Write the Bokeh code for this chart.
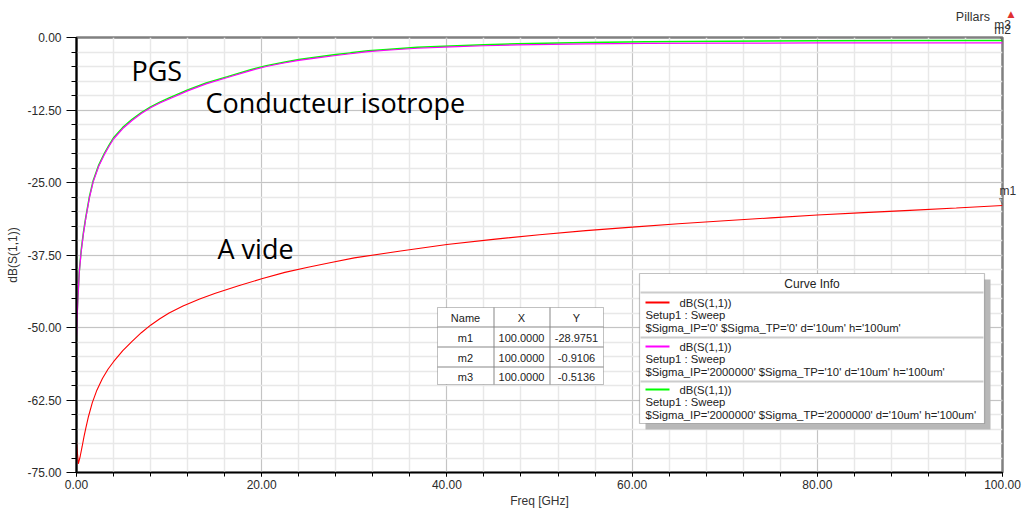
from bokeh.plotting import figure
from bokeh.models import (Range1d, FixedTicker, PrintfTickFormatter, Label, BoxAnnotation,
                          LinearAxis)
from bokeh.embed import file_html
from bokeh.resources import INLINE

# ---------------- data ----------------
freq_pgs = [0, 0.15, 0.3, 0.5, 0.75, 1, 1.4, 1.8, 2.4, 3, 3.5, 4, 5, 6, 7, 8, 9, 10, 12, 14,
            16.3, 18.8, 20.5, 22.4, 24, 26, 28, 29.6, 31.5, 33.5, 36.8, 40.4, 44, 47.6, 55,
            61.5, 70, 80, 90, 100]
db_magenta = [-51.5, -45.0, -40.5, -37.0, -33.8, -31.2, -27.6, -24.9, -22.2, -20.2, -18.8,
              -17.5, -15.7, -14.3, -13.1, -12.1, -11.3, -10.6, -9.2, -8.0, -6.9, -5.7, -5.0,
              -4.4, -3.95, -3.5, -3.1, -2.8, -2.45, -2.2, -1.85, -1.6, -1.42, -1.27, -1.1,
              -1.02, -0.97, -0.94, -0.92, -0.9106]
db_green = [-50.0, -44.8, -40.3, -36.8, -33.6, -31.0, -27.4, -24.7, -22.0, -20.0, -18.6,
            -17.3, -15.5, -14.1, -12.95, -11.95, -11.15, -10.4, -9.05, -7.85, -6.75, -5.55,
            -4.85, -4.25, -3.8, -3.35, -2.95, -2.65, -2.3, -2.05, -1.7, -1.45, -1.25, -1.08,
            -0.86, -0.73, -0.63, -0.57, -0.53, -0.5136]

freq_vide = [0, 0.2, 0.4, 0.6, 0.8, 1.0, 1.3, 1.7, 2.2, 2.8, 3.4, 4, 5, 6, 7, 8, 9, 10, 11.5,
             13.3, 15, 17.5, 20, 22.5, 25, 27.5, 30, 35, 40, 45, 50, 55, 60, 65, 70, 75, 80,
             85, 90, 95, 100]
db_red = [-69.7, -73.5, -72.2, -70.6, -68.9, -67.4, -65.3, -63.0, -60.8, -58.8, -57.2, -55.9,
          -54.0, -52.4, -50.9, -49.6, -48.5, -47.5, -46.3, -45.1, -44.1, -42.8, -41.6, -40.5,
          -39.6, -38.8, -38.0, -36.8, -35.7, -34.8, -34.0, -33.3, -32.7, -32.1, -31.6, -31.1,
          -30.6, -30.2, -29.8, -29.4, -28.975]

marker_names = ["m1", "m2", "m3"]
marker_x = [100.0, 100.0, 100.0]
marker_y = [-28.9751, -0.9106, -0.5136]

curve_colors = ["#FF0000", "#FF00FF", "#00FF00"]
curve_expr = ["dB(S(1,1))", "dB(S(1,1))", "dB(S(1,1))"]
curve_setup = ["Setup1 : Sweep", "Setup1 : Sweep", "Setup1 : Sweep"]
curve_params = ["$Sigma_IP='0' $Sigma_TP='0' d='10um' h='100um'",
                "$Sigma_IP='2000000' $Sigma_TP='10' d='10um' h='100um'",
                "$Sigma_IP='2000000' $Sigma_TP='2000000' d='10um' h='100um'"]

x_major = [0, 20, 40, 60, 80, 100]
x_minor = [0, 4, 8, 12, 16, 20, 24, 28, 32, 36, 40, 44, 48, 52, 56, 60, 64, 68, 72, 76,
           80, 84, 88, 92, 96, 100]
y_major = [-75, -62.5, -50, -37.5, -25, -12.5, 0]
y_minor = [-75, -72.5, -70, -67.5, -65, -62.5, -60, -57.5, -55, -52.5, -50, -47.5, -45,
           -42.5, -40, -37.5, -35, -32.5, -30, -27.5, -25, -22.5, -20, -17.5, -15, -12.5,
           -10, -7.5, -5, -2.5, 0]
title_text = "Pillars"
title_x = 96.8

# ------------- helpers: page pixel -> data (annotations only) -------------
FL, FT, FR, FB = 76.0, 37.0, 1002.0, 472.0

def dx(px):
    return (px - FL) / ((FR - FL) / 100.0)

def dy(py):
    return -(py - FT) / ((FB - FT) / 75.0)

FONT = "Liberation Sans"
TXT = "#333333"

p = figure(width=1024, height=513, x_range=Range1d(0, 100), y_range=Range1d(-75, 0),
           output_backend="svg", toolbar_location=None,
           min_border_left=int(FL), min_border_right=1024 - int(FR),
           min_border_top=int(FT), min_border_bottom=513 - int(FB))
p.background_fill_color = "white"
p.border_fill_color = "white"
p.outline_line_color = "#808080"
p.outline_line_width = 2.5

for ax, maj, mnr in ((p.xaxis[0], x_major, x_minor), (p.yaxis[0], y_major, y_minor)):
    ax.ticker = FixedTicker(ticks=maj, minor_ticks=mnr)
    ax.formatter = PrintfTickFormatter(format="%.2f")
    ax.axis_line_color = "black"
    ax.major_tick_line_color = "black"
    ax.minor_tick_line_color = "black"
    ax.major_tick_in = 0
    ax.minor_tick_in = 0
    ax.major_label_text_font = FONT
    ax.major_label_text_font_size = "12px"
    ax.major_label_text_color = "#2a2a2a"
    ax.axis_label_text_font = FONT
    ax.axis_label_text_font_size = "12px"
    ax.axis_label_text_font_style = "normal"
    ax.axis_label_text_color = TXT

p.xaxis.axis_label = "Freq [GHz]"
p.xaxis.axis_line_width = 1.5
p.xaxis.major_tick_out = 4
p.xaxis.minor_tick_out = 4
p.xaxis.major_label_standoff = 3
p.xaxis.axis_label_standoff = 2

p.yaxis.axis_label = "dB(S(1,1))"
p.yaxis.axis_line_width = 2
p.yaxis.major_tick_out = 10
p.yaxis.minor_tick_out = 5
p.yaxis.major_label_standoff = 5
p.yaxis.axis_label_standoff = 4

for g in (p.xgrid[0], p.ygrid[0]):
    g.grid_line_color = "#c4c4c4"
    g.grid_line_width = 1
    g.minor_grid_line_color = "#e8e8e8"
    g.minor_grid_line_width = 1.5
p.xgrid.ticker = FixedTicker(ticks=x_major, minor_ticks=x_minor)
p.ygrid.ticker = FixedTicker(ticks=y_major, minor_ticks=y_minor)


def text_axis(ticks, labels, size="12px", standoff=0, color=TXT, font=FONT):
    ax = LinearAxis(ticker=FixedTicker(ticks=ticks),
                    major_label_overrides={t: s for t, s in zip(ticks, labels)})
    ax.axis_line_alpha = 0
    ax.major_tick_line_alpha = 0
    ax.minor_tick_line_alpha = 0
    ax.major_tick_out = 0
    ax.minor_tick_out = 0
    ax.major_label_standoff = standoff
    ax.major_label_text_font = font
    ax.major_label_text_font_size = size
    ax.major_label_text_color = color
    return ax


# marker labels, title and icon outside the frame, via label-only axes (stacked upward)
p.add_layout(text_axis([marker_x[1]], [marker_names[1]], standoff=1), "above")
p.add_layout(text_axis([marker_x[2]], [marker_names[2]], standoff=-12), "above")
p.add_layout(text_axis([title_x], [title_text], size="12.5px", standoff=-9), "above")
p.add_layout(text_axis([100], ["\u2007\u2007\u2007\u25b2"], size="9px", standoff=-12,
                       color="#e03030", font="DejaVu Sans"), "above")
m1_tick = marker_y[0] + 15 * 75.0 / (FB - FT)
p.add_layout(text_axis([m1_tick], [marker_names[0]], standoff=-3), "right")

# ---------------- curves ----------------
p.line(freq_vide, db_red, line_color=curve_colors[0], line_width=1.1)
p.line(freq_pgs, db_green, line_color=curve_colors[2], line_width=1.5)
p.line(freq_pgs, db_magenta, line_color=curve_colors[1], line_width=1.2)

# ---------------- marker symbols ----------------
for mx, my in zip(marker_x, marker_y):
    p.add_layout(Label(x=mx, y=my, text="\u25bd", text_font="DejaVu Sans",
                       text_font_size="9px", text_align="center",
                       text_baseline="bottom", text_color="#333333"))

# ---------------- curve annotations ----------------
for txt, lx, ly in (("PGS", 131, 70), ("Conducteur isotrope", 205, 102), ("A vide", 217, 248)):
    p.add_layout(Label(x=dx(lx), y=dy(ly), text=txt, text_font="Open Sans",
                       text_font_size="27px", text_baseline="alphabetic",
                       text_color="black"))

# ---------------- marker table ----------------
tab_cols = [437, 493, 549, 603]
tab_rows = [307, 326, 346, 366, 384]
p.add_layout(BoxAnnotation(left=dx(tab_cols[0]), right=dx(tab_cols[-1]),
                           top=dy(tab_rows[0]), bottom=dy(tab_rows[-1]),
                           fill_color="white", fill_alpha=1.0,
                           line_color="#333333", line_width=1))
for c in tab_cols[1:-1]:
    p.add_layout(BoxAnnotation(left=dx(c), right=dx(c + 1), top=dy(tab_rows[0]),
                               bottom=dy(tab_rows[-1]), fill_color="#888888",
                               fill_alpha=1.0, line_alpha=0))
for r in tab_rows[1:-1]:
    p.add_layout(BoxAnnotation(left=dx(tab_cols[0]), right=dx(tab_cols[-1]),
                               top=dy(r), bottom=dy(r + 1), fill_color="#888888",
                               fill_alpha=1.0, line_alpha=0))
header = ["Name", "X", "Y"]
rows_txt = [header] + [[n, "%.4f" % x, "%.4f" % y]
                       for n, x, y in zip(marker_names, marker_x, marker_y)]
for ri, row in enumerate(rows_txt):
    cy = (tab_rows[ri] + tab_rows[ri + 1]) / 2.0 + 1
    for ci, cell in enumerate(row):
        cx = (tab_cols[ci] + tab_cols[ci + 1]) / 2.0
        p.add_layout(Label(x=dx(cx), y=dy(cy), text=cell, text_font=FONT,
                           text_font_size="11px", text_align="center",
                           text_baseline="middle", text_color="#222222"))

# ---------------- curve info box ----------------
L, R, T, B = 639, 984, 273, 423
p.add_layout(BoxAnnotation(left=dx(L + 6), right=dx(R + 6), top=dy(T + 6), bottom=dy(B + 6),
                           fill_color="#b8b8b8", fill_alpha=1.0, line_alpha=0))
p.add_layout(BoxAnnotation(left=dx(L), right=dx(R), top=dy(T), bottom=dy(B),
                           fill_color="white", fill_alpha=1.0,
                           line_color="#333333", line_width=1.2))
p.add_layout(Label(x=dx((L + R) / 2.0), y=dy(283), text="Curve Info", text_font=FONT,
                   text_font_size="12px", text_align="center", text_baseline="middle",
                   text_color="#222222"))
for sep in (291, 336, 380):
    p.add_layout(BoxAnnotation(left=dx(L + 1), right=dx(R - 1), top=dy(sep), bottom=dy(sep + 2),
                               fill_color="#cccccc", fill_alpha=1.0, line_alpha=0))
entry_tops = [302, 346, 389]
for col, ex, st, par, ey in zip(curve_colors, curve_expr, curve_setup, curve_params, entry_tops):
    p.add_layout(BoxAnnotation(left=dx(645), right=dx(669), top=dy(ey - 1), bottom=dy(ey + 1),
                               fill_color=col, fill_alpha=1.0, line_alpha=0))
    p.add_layout(Label(x=dx(679), y=dy(ey), text=ex, text_font=FONT,
                       text_font_size="11.3px", text_baseline="middle", text_color="#222222"))
    p.add_layout(Label(x=dx(645), y=dy(ey + 12), text=st, text_font=FONT,
                       text_font_size="11.3px", text_baseline="middle", text_color="#222222"))
    p.add_layout(Label(x=dx(645), y=dy(ey + 25), text=par, text_font=FONT,
                       text_font_size="11.3px", text_baseline="middle", text_color="#222222"))

open("out.html", "w").write(file_html(p, INLINE))
